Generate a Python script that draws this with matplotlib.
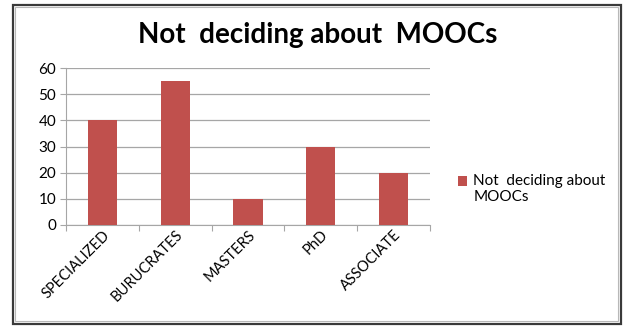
import matplotlib.pyplot as plt
from matplotlib.patches import Rectangle
import numpy as np

plt.rcParams["font.family"] = ["Lato", "DejaVu Sans"]

categories = ["SPECIALIZED", "BURUCRATES", "MASTERS", "PhD", "ASSOCIATE"]
not_deciding = [40, 55, 10, 30, 20]
series_label = "Not  deciding about\nMOOCs"
title = "Not  deciding about  MOOCs"

bar_color = "#C0504D"
grid_color = "#a6a6a6"

fig = plt.figure(figsize=(6.24, 3.26), dpi=100)
ax = fig.add_axes([66 / 624, 1 - 225 / 326, 364 / 624, 157 / 326])

x = np.arange(len(categories))
ax.bar(x, not_deciding, width=0.4, color=bar_color, label=series_label, zorder=3)

ax.set_xlim(-0.5, len(categories) - 0.5)
ax.set_ylim(0, 60)
ax.set_yticks(range(0, 61, 10))
ax.yaxis.grid(True, color=grid_color, linewidth=0.9, zorder=0)

# category ticks sit on the boundaries between bars
ax.set_xticks(np.arange(-0.5, len(categories), 1.0))
ax.set_xticklabels([])
ax.set_xticks(x, minor=True)
ax.set_xticklabels(categories, minor=True, rotation=45, ha="right",
                   va="top", rotation_mode="anchor", fontsize=10.5)
ax.tick_params(axis="x", which="minor", length=0, pad=2)
ax.tick_params(axis="x", which="major", length=4, color=grid_color, direction="out")
ax.tick_params(axis="y", length=4, color=grid_color, labelsize=11, pad=3)

for side in ["top", "right"]:
    ax.spines[side].set_visible(False)
for side in ["left", "bottom"]:
    ax.spines[side].set_color(grid_color)

fig.text(318 / 624, 1 - 35 / 326, title, ha="center", va="center",
         fontsize=20, fontweight="bold")

leg = fig.legend(loc="center left", bbox_to_anchor=(452 / 624, 1 - 189 / 326),
                 frameon=False, fontsize=11, handlelength=0.6, handleheight=0.6,
                 handletextpad=0.4, borderaxespad=0)
# put the legend swatch next to the first line of the label
swatch = leg.legend_handles[0]
swatch.set_y(swatch.get_y() + 6)

# chart border: dark outer line with a lighter inner line
fig.patches.append(Rectangle((12.5 / 624, 1 - 323.5 / 326), 608 / 624, 319 / 326,
                             transform=fig.transFigure, fill=False,
                             edgecolor="#3a3a3a", linewidth=1.6))
fig.patches.append(Rectangle((15 / 624, 1 - 321 / 326), 603 / 624, 314 / 326,
                             transform=fig.transFigure, fill=False,
                             edgecolor="#b8b8b8", linewidth=0.8))

fig.savefig("out.png", dpi=100)
